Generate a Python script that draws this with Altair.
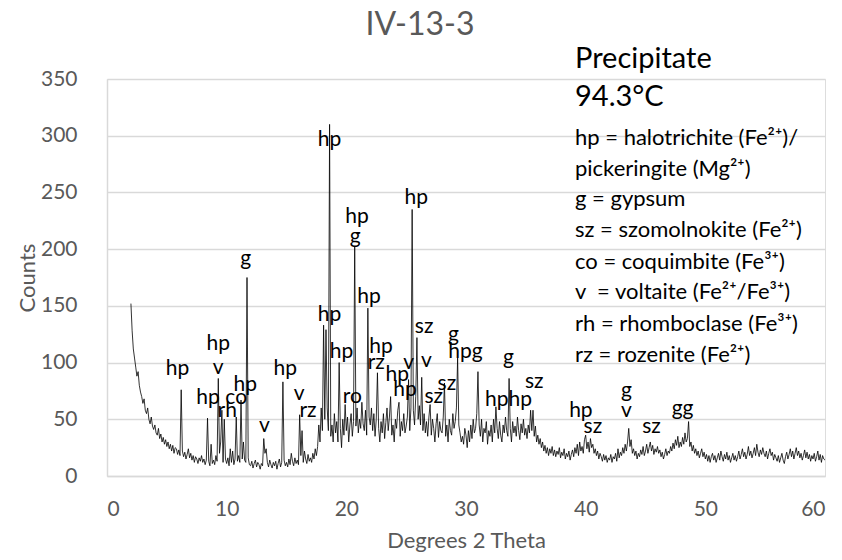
import altair as alt
import pandas as pd

# ---- XRD pattern, counts per 0.1 degree step (row = whole degree) ----
rows = {
    2: [152, 128, 112, 104, 96, 88, 92, 80, 74, 70],
    3: [64, 68, 58, 55, 60, 50, 46, 52, 44, 41],
    4: [45, 38, 36, 42, 33, 37, 30, 34, 28, 32],
    5: [26, 30, 24, 28, 22, 27, 20, 25, 24, 19],
    6: [23, 18, 76, 22, 17, 21, 15, 19, 24, 16],
    7: [20, 14, 18, 12, 17, 15, 11, 16, 13, 18],
    8: [12, 15, 10, 14, 51, 13, 9, 28, 11, 14],
    9: [10, 18, 13, 86, 20, 30, 58, 12, 50, 15],
    10: [11, 16, 9, 24, 12, 22, 10, 15, 52, 13],
    11: [18, 12, 67, 15, 30, 14, 12, 175, 16, 10],
    12: [9, 13, 7, 11, 14, 8, 12, 10, 6, 11],
    13: [9, 33, 20, 24, 12, 8, 14, 10, 7, 12],
    14: [9, 13, 6, 11, 15, 8, 12, 83, 14, 9],
    15: [12, 8, 15, 10, 20, 13, 9, 16, 11, 14],
    16: [10, 54, 18, 40, 12, 22, 15, 11, 19, 13],
    17: [16, 12, 20, 15, 24, 18, 26, 45, 30, 60],
    18: [40, 133, 50, 129, 60, 40, 310, 35, 45, 30],
    19: [55, 38, 48, 30, 100, 42, 25, 50, 36, 63],
    20: [40, 52, 30, 45, 55, 35, 48, 202, 44, 60],
    21: [38, 50, 42, 65, 46, 40, 58, 36, 148, 52],
    22: [45, 60, 40, 55, 35, 50, 91, 42, 30, 48],
    23: [38, 55, 33, 47, 60, 40, 52, 70, 36, 45],
    24: [30, 50, 42, 58, 65, 35, 48, 40, 55, 38],
    25: [44, 52, 85, 40, 60, 235, 58, 45, 70, 122],
    26: [50, 62, 45, 87, 40, 55, 38, 48, 35, 52],
    27: [63, 36, 50, 42, 30, 46, 55, 34, 48, 40],
    28: [38, 52, 82, 35, 45, 30, 50, 40, 36, 55],
    29: [42, 48, 60, 104, 45, 38, 30, 35, 28, 42],
    30: [36, 25, 40, 30, 45, 33, 50, 38, 42, 55],
    31: [92, 45, 35, 50, 30, 42, 38, 48, 28, 40],
    32: [35, 45, 30, 50, 38, 61, 42, 33, 48, 36],
    33: [30, 45, 38, 52, 40, 35, 86, 42, 30, 48],
    34: [38, 44, 35, 52, 40, 32, 46, 38, 50, 36],
    35: [42, 33, 45, 38, 58, 40, 58, 35, 44, 30],
    36: [36, 28, 33, 25, 30, 22, 27, 20, 25, 18],
    37: [24, 20, 26, 18, 23, 17, 22, 19, 25, 16],
    38: [21, 18, 24, 15, 20, 17, 22, 14, 19, 23],
    39: [17, 25, 20, 28, 18, 30, 22, 26, 20, 32],
    40: [36, 24, 30, 21, 33, 25, 28, 20, 24, 18],
    41: [22, 15, 20, 17, 13, 19, 14, 18, 12, 16],
    42: [14, 19, 12, 17, 15, 20, 13, 24, 16, 21],
    43: [18, 25, 20, 28, 22, 30, 42, 26, 32, 20],
    44: [24, 18, 22, 15, 20, 17, 23, 19, 26, 18],
    45: [22, 28, 20, 25, 30, 22, 27, 19, 24, 21],
    46: [26, 20, 23, 17, 21, 15, 19, 24, 18, 22],
    47: [20, 26, 22, 29, 24, 32, 27, 35, 25, 30],
    48: [26, 34, 28, 38, 30, 33, 48, 26, 30, 22],
    49: [27, 20, 24, 18, 22, 16, 20, 24, 17, 21],
    50: [15, 19, 13, 18, 12, 17, 20, 14, 18, 12],
    51: [16, 20, 14, 22, 17, 13, 19, 15, 21, 14],
    52: [18, 12, 16, 20, 14, 18, 13, 17, 22, 15],
    53: [19, 24, 17, 21, 15, 19, 26, 18, 22, 16],
    54: [20, 25, 18, 28, 21, 17, 23, 19, 25, 20],
    55: [17, 22, 15, 20, 24, 18, 21, 14, 19, 16],
    56: [13, 18, 12, 16, 20, 14, 11, 17, 21, 15],
    57: [19, 24, 17, 22, 15, 20, 25, 18, 22, 16],
    58: [20, 14, 18, 23, 16, 21, 15, 19, 13, 18],
    59: [15, 20, 13, 17, 22, 14, 19, 12, 18, 15],
    60: [14],
}

# ---- peak labels ----
label_text = ["hp", "hp", "v", "hp", "rh", "co", "hp", "g", "v", "hp", "v", "rz",
              "hp", "hp", "hp", "hp", "g", "hp", "ro", "hp", "rz", "hp", "hp", "v",
              "hp", "sz", "v", "sz", "sz", "g", "hpg", "g", "hphp", "sz",
              "hp", "sz", "g", "v", "sz", "gg"]
label_x = [5.9, 9.3, 9.3, 8.45, 10.05, 10.8, 11.55, 11.6, 13.15, 14.9, 16.05, 16.8,
           18.6, 18.6, 19.6, 20.9, 20.75, 21.9, 20.5, 22.9, 22.5, 24.25, 24.9, 25.2,
           25.85, 26.5, 26.7, 27.3, 28.4, 28.95, 29.95, 33.55, 33.55, 35.7,
           39.6, 40.6, 43.4, 43.4, 45.5, 48.1]
label_y = [94, 116, 95, 69, 57, 69, 80, 191, 44, 94, 72, 57,
           296, 142, 109, 228, 211, 158, 70, 114, 100, 89, 76, 100,
           245, 131, 101, 70, 81, 124, 109, 104, 67, 83,
           57, 43, 75, 57, 43, 59]

legend_big = ["Precipitate", "94.3°C"]
legend_small = ["hp = halotrichite (Fe²⁺)/", "pickeringite (Mg²⁺)", "g = gypsum",
                "sz = szomolnokite (Fe²⁺)", "co = coquimbite (Fe³⁺)",
                "\u00a0v\u00a0 = voltaite (Fe²⁺/Fe³⁺)", "rh = rhomboclase (Fe³⁺)",
                "rz = rozenite (Fe²⁺)"]

theta, counts = [], []
for d, vals in rows.items():
    for k, v in enumerate(vals):
        theta.append(round(d + k / 10, 1))
        counts.append(v)

df = pd.DataFrame({"theta": theta, "counts": counts})
labels = pd.DataFrame({"label": label_text, "lx": label_x, "ly": label_y})

F = "Lato"
GRAY = "#595959"
GRID = "#d9d9d9"

xscale = alt.Scale(domain=[0, 60], nice=False, zero=False)
yscale = alt.Scale(domain=[0, 350], nice=False)

line = alt.Chart(df).mark_line(color="black", strokeWidth=0.8).encode(
    x=alt.X("theta:Q", scale=xscale,
            axis=alt.Axis(values=[0, 10, 20, 30, 40, 50, 60], title="Degrees 2 Theta",
                          grid=False, ticks=False, domainColor=GRID, domainWidth=1.5,
                          labelFont=F, labelFontSize=21, labelColor=GRAY, labelPadding=22,
                          titleFont=F, titleFontSize=22, titleColor=GRAY,
                          titleFontWeight="normal", titlePadding=11)),
    y=alt.Y("counts:Q", scale=yscale,
            axis=alt.Axis(values=[0, 50, 100, 150, 200, 250, 300, 350], title="Counts",
                          grid=True, gridColor=GRID, gridWidth=1.5, ticks=False,
                          domainColor=GRID, domainWidth=1.5,
                          labelFont=F, labelFontSize=21, labelColor=GRAY, labelPadding=30,
                          titleFont=F, titleFontSize=22, titleColor=GRAY,
                          titleFontWeight="normal", titlePadding=1)),
)

peak_text = alt.Chart(labels).mark_text(font=F, fontSize=21, color="black",
                                        align="center", baseline="middle").encode(
    x=alt.X("lx:Q", scale=xscale), y=alt.Y("ly:Q", scale=yscale), text="label:N")

layers = [line, peak_text]

title_df = pd.DataFrame({"t": ["IV-13-3"]})
layers.append(alt.Chart(title_df).mark_text(font=F, fontSize=32, color=GRAY, align="center",
                                            baseline="alphabetic").encode(
    x=alt.value(313), y=alt.value(-44), text="t:N"))

big_baselines = [-11, 27]
for s, b in zip(legend_big, big_baselines):
    layers.append(alt.Chart(pd.DataFrame({"t": [s]})).mark_text(
        font=F, fontSize=29, color="black", align="left", baseline="alphabetic").encode(
        x=alt.value(468), y=alt.value(b), text="t:N"))

small_baselines = [66, 97, 127, 158, 190, 220, 252, 283]
for s, b in zip(legend_small, small_baselines):
    layers.append(alt.Chart(pd.DataFrame({"t": [s]})).mark_text(
        font=F, fontSize=22, color="black", align="left", baseline="alphabetic").encode(
        x=alt.value(468), y=alt.value(b), text="t:N"))

chart = alt.layer(*layers).properties(
    width=718, height=397,
    autosize=alt.AutoSizeParams(type="none"),
    padding={"left": 107, "top": 79, "right": 17, "bottom": 84},
).configure_view(stroke=None).configure(background="white")

chart.save("out.html", embed_options={"renderer": "svg", "actions": False})
